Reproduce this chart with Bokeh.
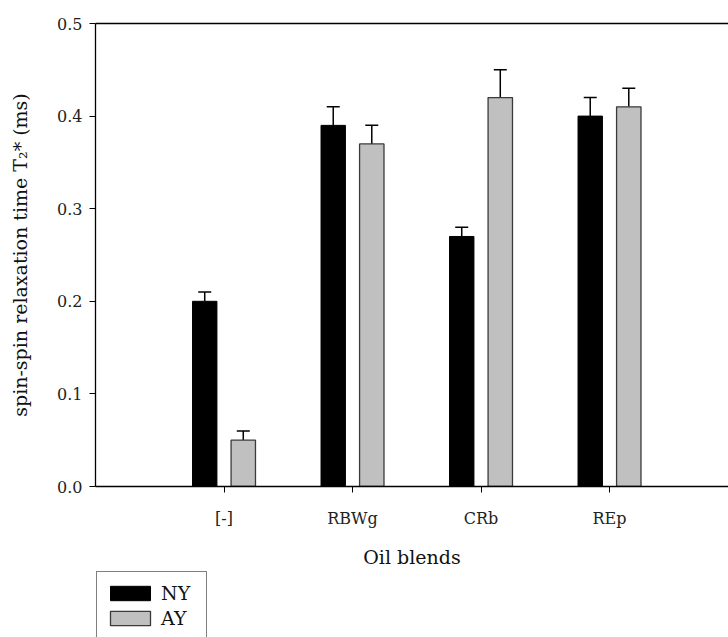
from bokeh.plotting import figure
from bokeh.layouts import column
from bokeh.models import (ColumnDataSource, Range1d, FixedTicker, PrintfTickFormatter,
                          LinearAxis, Whisker, TeeHead, Legend, LegendItem)
from bokeh.transform import dodge
from bokeh.embed import file_html
from bokeh.resources import INLINE

categories = ["[-]", "RBWg", "CRb", "REp"]
ny_values = [0.20, 0.39, 0.27, 0.40]
ny_errors = [0.01, 0.02, 0.01, 0.02]
ay_values = [0.05, 0.37, 0.42, 0.41]
ay_errors = [0.01, 0.02, 0.03, 0.02]
y_ticks = [0.0, 0.1, 0.2, 0.3, 0.4, 0.5]
series_names = ["NY", "AY"]

FONT = "DejaVu Serif"
NY_STYLE = dict(fill_color="black", line_color="black", line_width=1)
AY_STYLE = dict(fill_color="#c0c0c0", line_color="#3a3a3a", line_width=1.3)

positions = list(range(1, len(categories) + 1))
src = ColumnDataSource(dict(
    x=positions,
    ny=ny_values,
    ny_up=[v + e for v, e in zip(ny_values, ny_errors)],
    ay=ay_values,
    ay_up=[v + e for v, e in zip(ay_values, ay_errors)],
))

p = figure(width=728, height=570, output_backend="svg", toolbar_location=None,
           x_range=Range1d(0, 4.926), y_range=Range1d(0, 0.5),
           min_border_left=95, min_border_right=0, min_border_top=23, min_border_bottom=84)
p.outline_line_color = None
p.xgrid.visible = False
p.ygrid.visible = False

off = 0.15
bw = 0.19
p.vbar(x=dodge("x", -off), top="ny", bottom=0, width=bw, source=src, **NY_STYLE)
p.vbar(x=dodge("x", off), top="ay", bottom=0, width=bw, source=src, **AY_STYLE)

for col_lo, col_hi, o in (("ny", "ny_up", -off), ("ay", "ay_up", off)):
    w = Whisker(base=dodge("x", o), lower=col_lo, upper=col_hi, source=src,
                dimension="height", line_color="black", line_width=1.5,
                upper_head=TeeHead(size=13, line_color="black", line_width=1.5),
                lower_head=None)
    p.add_layout(w)

# axes
xa = p.xaxis[0]
xa.ticker = FixedTicker(ticks=positions)
xa.major_label_overrides = {pos: c for pos, c in zip(positions, categories)}
xa.minor_tick_line_color = None
xa.major_tick_out = 6
xa.major_tick_in = 0
xa.major_label_standoff = 16
xa.major_label_text_font = FONT
xa.major_label_text_font_size = "16px"
xa.major_label_text_color = "#222222"
xa.axis_label = "Oil blends"
xa.axis_label_text_font = FONT
xa.axis_label_text_font_size = "19px"
xa.axis_label_text_font_style = "normal"
xa.axis_label_text_color = "#111111"
xa.axis_label_standoff = 15
xa.axis_line_width = 1.3

ya = p.yaxis[0]
ya.ticker = FixedTicker(ticks=y_ticks)
ya.formatter = PrintfTickFormatter(format="%.1f")
ya.minor_tick_line_color = None
ya.major_tick_out = 6
ya.major_tick_in = 0
ya.major_label_standoff = 7
ya.major_label_text_font = FONT
ya.major_label_text_font_size = "16px"
ya.major_label_text_color = "#222222"
ya.axis_label = "spin-spin relaxation time T\u2082* (ms)"
ya.axis_label_text_font = FONT
ya.axis_label_text_font_size = "19px"
ya.axis_label_text_font_style = "normal"
ya.axis_label_text_color = "#111111"
ya.axis_label_standoff = 23
ya.axis_line_width = 1.3

top_axis = LinearAxis(ticker=FixedTicker(ticks=[]), major_tick_out=0, major_tick_in=0,
                      minor_tick_out=0, minor_tick_in=0, major_label_text_font_size="0px",
                      major_label_standoff=0, axis_line_width=1.3)
p.add_layout(top_axis, "above")

# legend strip below the chart (box runs off the bottom edge as in the reference)
lf = figure(width=728, height=67, output_backend="svg", toolbar_location=None,
            x_range=Range1d(0, 1), y_range=Range1d(0, 1),
            x_axis_location=None, y_axis_location=None,
            min_border_left=0, min_border_right=0, min_border_top=0, min_border_bottom=0)
lf.outline_line_color = None
lf.xgrid.visible = False
lf.ygrid.visible = False
# swatch renderers for the legend only (placed outside the visible range)
g_ny = lf.vbar(x=[-5], top=[-5], bottom=[-6], width=0.1, **NY_STYLE)
g_ay = lf.vbar(x=[-5], top=[-5], bottom=[-6], width=0.1, **AY_STYLE)

legend = Legend(items=[LegendItem(label=series_names[0], renderers=[g_ny], index=0),
                       LegendItem(label=series_names[1], renderers=[g_ay], index=0)],
                location=(1, -2), orientation="vertical",
                padding=8, spacing=0, margin=0,
                glyph_width=50, glyph_height=18, label_height=25, label_width=37,
                label_standoff=6, label_text_font=FONT, label_text_font_size="19px",
                label_text_color="#111111",
                border_line_color="black", border_line_width=1,
                background_fill_color="white", background_fill_alpha=1)
lf.add_layout(legend)

layout = column(p, lf, spacing=0)
open("out.html", "w").write(file_html(layout, INLINE))
